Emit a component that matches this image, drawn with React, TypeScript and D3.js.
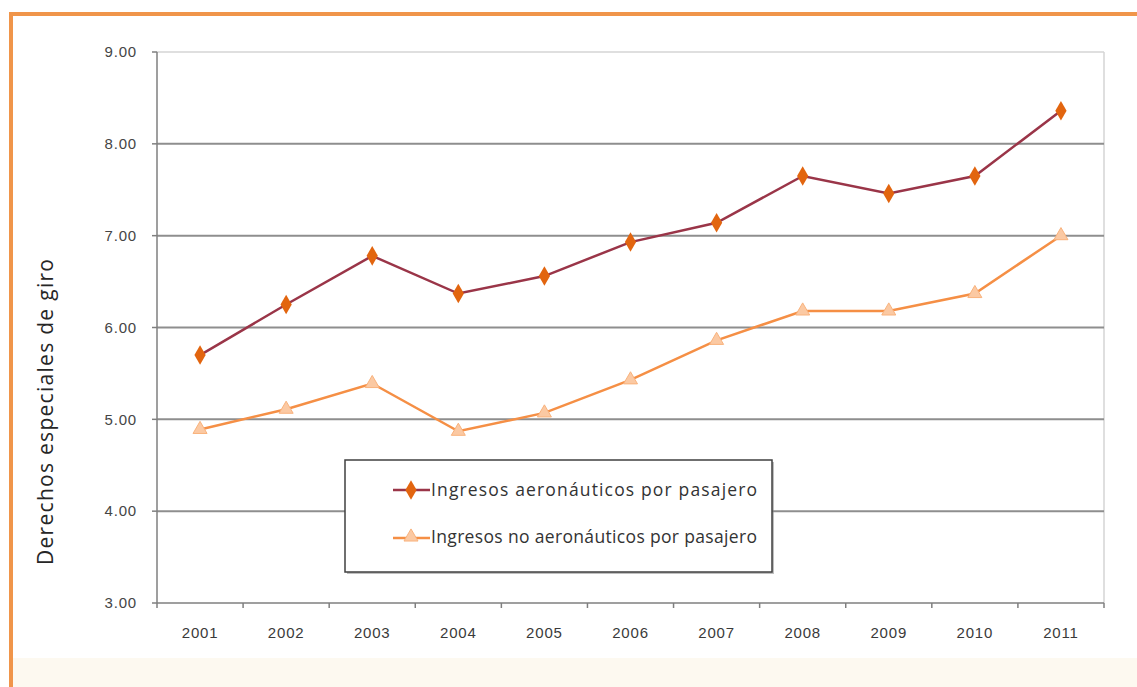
import React from "react";
import * as d3 from "d3";

const years = ["2001","2002","2003","2004","2005","2006","2007","2008","2009","2010","2011"];
const aeroValues = [5.70, 6.25, 6.78, 6.37, 6.56, 6.93, 7.14, 7.65, 7.46, 7.65, 8.36];
const nonAeroValues = [4.89, 5.11, 5.39, 4.87, 5.07, 5.43, 5.86, 6.18, 6.18, 6.37, 7.00];
const yTicks = [3, 4, 5, 6, 7, 8, 9];
const seriesNames = ["Ingresos aeronáuticos por pasajero", "Ingresos no aeronáuticos por pasajero"];
const yTitle = "Derechos especiales de giro";

export default function App() {
  const W = 1137, H = 687;
  const left = 157, right = 1104, top = 52, bottom = 603;
  const x = d3.scaleBand<string>().domain(years).range([left, right]);
  const y = d3.scaleLinear().domain([3, 9]).range([bottom, top]);
  const cx = (d: string) => (x(d) as number) + x.bandwidth() / 2;
  const line = d3.line<number>().x((_, i) => cx(years[i])).y((v) => y(v));
  const diamond = d3.symbol().type(d3.symbolDiamond).size(110)() as string;
  const triangle = d3.symbol().type(d3.symbolTriangle).size(85)() as string;
  const boundaries = years.map((yr) => x(yr) as number).concat([right]);

  return (
    <svg width={W} height={H} style={{ position: "absolute", left: 0, top: 0 }}>
      <rect x={0} y={0} width={W} height={H} fill="#ffffff" />
      <rect x={13} y={658} width={W - 13} height={H - 658} fill="#fdf9f0" />
      <line x1={11} y1={14} x2={W} y2={14} stroke="#f0954a" strokeWidth={4} />
      <line x1={11} y1={12} x2={11} y2={H} stroke="#f0954a" strokeWidth={4} />

      {/* plot frame */}
      <line x1={left} y1={top} x2={right} y2={top} stroke="#d4d4d4" strokeWidth={1.5} />
      <line x1={right} y1={top} x2={right} y2={bottom} stroke="#d4d4d4" strokeWidth={1.5} />
      {yTicks.filter((t) => t !== 3 && t !== 9).map((t) => (
        <line key={t} x1={left} x2={right} y1={y(t)} y2={y(t)} stroke="#8e8e8e" strokeWidth={2} />
      ))}
      <line x1={left} y1={top} x2={left} y2={bottom} stroke="#7f7f7f" strokeWidth={1.5} />
      <line x1={left} y1={bottom} x2={right} y2={bottom} stroke="#7f7f7f" strokeWidth={1.5} />
      {yTicks.map((t) => (
        <g key={"yt" + t}>
          <line x1={left - 5} x2={left} y1={y(t)} y2={y(t)} stroke="#7f7f7f" strokeWidth={1.5} />
          <text x={137} y={y(t)} dy="0.35em" textAnchor="end" fontFamily="Liberation Sans, Arial" fontSize={15} letterSpacing={0.8} fill="#454545">
            {t.toFixed(2)}
          </text>
        </g>
      ))}
      {boundaries.map((b, i) => (
        <line key={"xt" + i} x1={b} x2={b} y1={bottom} y2={bottom + 5} stroke="#7f7f7f" strokeWidth={1.5} />
      ))}
      {years.map((yr) => (
        <text key={yr} x={cx(yr)} y={633} dy="0.35em" textAnchor="middle" fontFamily="Liberation Sans, Arial" fontSize={15} letterSpacing={0.8} fill="#3a3a3a">
          {yr}
        </text>
      ))}

      <text transform={`translate(46,${412}) rotate(-90)`} textAnchor="middle" dy="0.35em" fontFamily="Open Sans, sans-serif" fontSize={21} textLength={306} lengthAdjust="spacing" fill="#262626">
        {yTitle}
      </text>

      {/* series */}
      <path d={line(nonAeroValues) as string} fill="none" stroke="#f58f45" strokeWidth={2.5} />
      {nonAeroValues.map((v, i) => (
        <path key={"t" + i} d={triangle} transform={`translate(${cx(years[i])},${y(v)})`} fill="#fbc9a3" stroke="#f9b27c" strokeWidth={1} />
      ))}
      <path d={line(aeroValues) as string} fill="none" stroke="#9a3548" strokeWidth={2.5} />
      {aeroValues.map((v, i) => (
        <path key={"d" + i} d={diamond} transform={`translate(${cx(years[i])},${y(v)})`} fill="#e2650f" />
      ))}

      {/* legend */}
      <rect x={347} y={462} width={427} height={112} fill="#808080" opacity={0.5} />
      <rect x={345} y={460} width={427} height={112} fill="#ffffff" stroke="#404040" strokeWidth={1.5} />
      <line x1={393} x2={430} y1={490} y2={490} stroke="#9a3548" strokeWidth={2.5} />
      <path d={diamond} transform="translate(411,490)" fill="#e2650f" />
      <text x={431} y={490} dy="0.35em" fontFamily="Open Sans, sans-serif" fontSize={17.5} textLength={326} lengthAdjust="spacing" fill="#333333">
        {seriesNames[0]}
      </text>
      <line x1={393} x2={430} y1={538} y2={538} stroke="#f58f45" strokeWidth={2.5} />
      <path d={triangle} transform="translate(411,537)" fill="#fbc9a3" stroke="#f9b27c" strokeWidth={1} />
      <text x={431} y={537} dy="0.35em" fontFamily="Open Sans, sans-serif" fontSize={17.5} textLength={326} lengthAdjust="spacing" fill="#333333">
        {seriesNames[1]}
      </text>
    </svg>
  );
}
